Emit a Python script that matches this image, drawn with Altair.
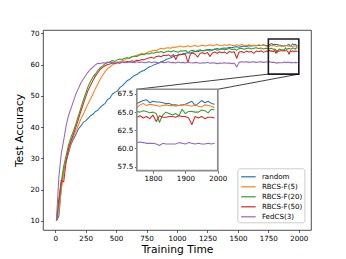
import altair as alt
import pandas as pd

# ---------------- data ----------------
SERIES = ["random", "RBCS-F(5)", "RBCS-F(20)", "RBCS-F(50)", "FedCS(3)"]
COLORS = ["#1f77b4", "#ff7f0e", "#2ca02c", "#d62728", "#9467bd"]

TIME_MAIN = list(range(10, 1731, 20))     # coarse part of the run
TIME_TAIL = list(range(1750, 1991, 10))   # zoomed tail
TIME = TIME_MAIN + TIME_TAIL

RANDOM = [10.0, 11.5, 20.5, 26.3, 29.0, 31.8, 34.5, 36.2, 37.6, 39.4,
          40.3, 41.5, 42.0, 42.8, 43.6, 44.1, 45.0, 45.4, 46.3, 47.0,
          47.6, 48.8, 49.3, 50.6, 51.1, 51.5, 52.6, 53.2, 54.0, 54.8,
          55.2, 55.9, 56.5, 56.8, 57.4, 57.9, 58.1, 58.7, 59.2, 59.5,
          59.9, 60.2, 60.5, 60.9, 61.1, 61.6, 61.9, 62.2, 62.6, 62.9,
          63.0, 63.3, 63.2, 63.6, 63.8, 63.7, 64.0, 64.2, 64.1, 64.4,
          64.5, 64.4, 64.7, 64.8, 64.6, 65.0, 65.1, 64.9, 65.2, 65.3,
          65.2, 65.5, 65.4, 65.6, 65.7, 65.5, 65.8, 65.9, 65.7, 66.0,
          65.9, 66.1, 66.0, 66.2, 66.1, 66.3, 66.1,
          66.2, 66.4, 66.6, 66.7, 66.3, 66.5, 66.4, 66.4, 66.3, 66.2,
          66.2, 66.0, 66.0, 65.9, 66.0, 66.1, 66.3, 66.5, 65.9, 66.2,
          66.6, 66.3, 66.5, 66.2, 66.1]

RBCS5 = [10.0, 13.0, 20.0, 25.5, 29.5, 32.5, 35.0, 37.0, 38.8, 40.6,
         42.5, 44.0, 45.8, 47.5, 49.0, 50.6, 52.3, 53.8, 55.4, 56.6,
         57.8, 58.7, 59.2, 59.9, 60.3, 60.6, 60.9, 61.2, 61.5, 61.9,
         62.1, 62.5, 62.6, 63.0, 63.2, 63.5, 63.4, 63.8, 64.1, 64.3,
         64.6, 64.5, 64.9, 65.2, 65.0, 65.3, 65.4, 65.2, 65.6, 65.5,
         65.7, 65.9, 65.6, 65.8, 66.0, 65.7, 65.9, 66.1, 65.8, 66.0,
         66.2, 65.9, 66.1, 66.3, 66.0, 66.2, 66.4, 66.1, 66.0, 66.3,
         66.1, 66.4, 66.2, 66.0, 66.3, 66.1, 66.4, 66.2, 66.0, 66.3,
         66.1, 66.2, 66.0, 66.3, 66.1, 66.2, 65.9,
         65.6, 66.0, 66.2, 65.9, 66.1, 66.0, 65.9, 65.8, 65.9, 66.0,
         65.9, 65.9, 65.8, 65.9, 66.0, 66.0, 65.9, 65.8, 66.1, 65.8,
         65.7, 66.0, 65.9, 65.8, 65.6]

RBCS20 = [10.0, 15.5, 22.5, 27.5, 31.0, 34.3, 36.8, 38.8, 41.0, 43.6,
          46.0, 48.5, 50.8, 53.0, 54.6, 56.0, 57.0, 58.1, 59.0, 59.6,
          60.3, 60.6, 60.9, 61.3, 61.0, 61.5, 61.8, 61.6, 62.0, 62.2,
          62.0, 62.5, 62.7, 62.6, 63.0, 63.3, 63.1, 63.5, 63.4, 63.8,
          63.6, 64.0, 63.9, 64.2, 63.8, 64.1, 64.3, 64.0, 64.4, 64.2,
          63.9, 64.4, 64.3, 64.5, 63.8, 64.4, 64.6, 64.2, 64.5, 64.7,
          64.4, 64.6, 64.8, 64.3, 64.7, 64.9, 64.6, 64.8, 65.0, 64.7,
          64.9, 65.1, 64.8, 65.0, 64.6, 65.1, 65.2, 64.9, 65.1, 65.3,
          65.0, 65.2, 65.4, 65.1, 65.3, 65.0, 65.2,
          65.1, 65.0, 65.2, 65.1, 64.9, 65.0, 64.8, 63.6, 64.6, 65.0,
          64.8, 64.6, 64.8, 64.5, 65.4, 64.8, 65.1, 65.1, 65.0, 65.0,
          65.3, 65.2, 64.9, 65.4, 65.3]

RBCS50 = [10.0, 17.0, 23.0, 22.5, 29.0, 33.3, 35.6, 37.8, 40.0, 42.3,
          45.0, 47.2, 49.6, 51.8, 53.3, 54.9, 56.3, 57.4, 58.5, 59.1,
          59.6, 60.0, 60.2, 60.5, 60.3, 60.6, 60.4, 60.8, 60.6, 61.0,
          60.8, 61.2, 61.0, 61.4, 61.3, 61.6, 61.5, 61.9, 62.1, 62.3,
          62.0, 62.6, 62.7, 62.5, 63.0, 62.8, 63.1, 62.6, 63.2, 61.6,
          63.3, 63.1, 63.5, 63.2, 60.6, 63.4, 63.7, 63.3, 62.4, 63.6,
          63.8, 63.4, 63.9, 62.6, 63.7, 64.0, 63.6, 64.1, 63.8, 64.0,
          63.5, 64.2, 63.9, 64.1, 62.0, 64.0, 64.2, 63.8, 64.3, 64.0,
          64.2, 63.6, 64.3, 64.1, 64.4, 63.9, 64.3,
          64.3, 64.5, 64.2, 64.4, 64.1, 64.6, 63.7, 64.5, 64.3, 64.3,
          64.4, 64.4, 64.3, 64.5, 64.4, 64.4, 64.2, 63.3, 64.4, 64.2,
          64.4, 64.1, 64.3, 64.3, 64.2]

FEDCS3 = [10.0, 24.0, 31.5, 35.8, 40.5, 43.8, 46.0, 48.3, 50.6, 52.3,
          54.0, 55.3, 56.5, 57.6, 58.5, 59.2, 59.9, 60.4, 60.3, 60.6,
          60.5, 60.8, 60.6, 60.7, 60.5, 60.8, 60.6, 60.7, 60.9, 60.6,
          60.8, 60.7, 60.6, 60.9, 60.7, 60.8, 60.6, 60.7, 60.9, 60.6,
          60.8, 60.7, 60.5, 60.8, 60.6, 60.7, 60.9, 60.6, 60.7, 60.5,
          60.8, 60.6, 60.7, 60.5, 60.8, 60.6, 60.5, 60.7, 60.6, 60.4,
          60.6, 60.5, 60.7, 60.4, 60.6, 60.5, 60.3, 60.5, 60.4, 60.6,
          60.4, 60.5, 60.3, 60.5, 59.2, 60.7, 60.9, 60.8, 60.9, 60.7,
          60.8, 60.9, 60.7, 60.8, 60.9, 60.7, 60.8,
          60.8, 60.9, 60.8, 60.7, 60.7, 60.7, 60.6, 60.4, 60.7, 60.6,
          60.6, 60.6, 60.6, 60.8, 60.7, 60.6, 60.8, 60.7, 60.6, 60.7,
          60.6, 60.6, 60.7, 60.6, 60.7]

X_TICKS = [0, 250, 500, 750, 1000, 1250, 1500, 1750, 2000]
Y_TICKS = [10, 20, 30, 40, 50, 60, 70]
INSET_X_TICKS = [1800, 1900, 2000]
INSET_Y_TICKS = [57.5, 60.0, 62.5, 65.0, 67.5]

# axis limits / zoom window / inset placement (in main data units)
X_DOM = [-100, 2100]
Y_DOM = [7.1, 71.05]
ZOOM_T = [1750, 2000]
ZOOM_V = [56.95, 68.15]
INSET_T = [670, 1335]
INSET_V = [26.1, 52.1]

# ---------------- layout ----------------
W, H = 268, 200
FONT = "DejaVu Sans"

rows = []
for name, vals in zip(SERIES, [RANDOM, RBCS5, RBCS20, RBCS50, FEDCS3]):
    assert len(vals) == len(TIME), (name, len(vals))
    for t, v in zip(TIME, vals):
        rows.append({"series": name, "t": t, "v": v})
df = pd.DataFrame(rows)
df_tail = df[df["t"] >= ZOOM_T[0]]

legend = alt.Legend(
    orient="none", legendX=194.4, legendY=138.3, title=None,
    symbolType="M-1.3,0L1.3,0", symbolSize=125, symbolStrokeWidth=1.2,
    symbolOffset=2.5,
    labelFont=FONT, labelFontSize=7.1, labelColor="black", labelOffset=7.0,
    fillColor="rgba(255,255,255,0.85)", strokeColor="#cccccc",
    cornerRadius=2, padding=2, rowPadding=0,
)
color = alt.Color("series:N", sort=SERIES,
                  scale=alt.Scale(domain=SERIES, range=COLORS), legend=legend)

x_main = alt.Scale(domain=X_DOM, nice=False, zero=False)
y_main = alt.Scale(domain=Y_DOM, nice=False, zero=False)

ax_x = alt.Axis(values=X_TICKS, title="Training Time", format="d", labelFlush=False,
                labelOverlap=False, titleY=22.9, titleBaseline="alphabetic")
ax_y = alt.Axis(values=Y_TICKS, title="Test Accuracy", format="d", labelOverlap=False,
                titleX=-23.3, titleBaseline="middle")

X_ENC = alt.X("t:Q", scale=x_main, axis=ax_x)
Y_ENC = alt.Y("v:Q", scale=y_main, axis=ax_y)

main_lines = alt.Chart(df).mark_line(strokeWidth=1.05, strokeJoin="round").encode(
    x=X_ENC, y=Y_ENC, color=color)

zoom_df = pd.DataFrame({"t": [ZOOM_T[0]], "t2": [ZOOM_T[1]],
                        "v": [ZOOM_V[0]], "v2": [ZOOM_V[1]]})
zoom_rect = alt.Chart(zoom_df).mark_rect(fillOpacity=0, stroke="#231a23",
                                         strokeWidth=1.6).encode(
    x=X_ENC, x2="t2", y=Y_ENC, y2="v2")

conn_df = pd.DataFrame({"t": ZOOM_T, "v": [ZOOM_V[0], ZOOM_V[0]],
                        "t2": INSET_T, "v2": [INSET_V[1], INSET_V[1]]})
connectors = alt.Chart(conn_df).mark_rule(color="black", strokeWidth=0.75).encode(
    x=X_ENC, x2="t2", y=Y_ENC, y2="v2")

main = alt.layer(main_lines, zoom_rect, connectors)

# inset pixel ranges derived from the inset box in main data units
def px_x(t):
    return (t - X_DOM[0]) / (X_DOM[1] - X_DOM[0]) * W

def px_y(v):
    return (Y_DOM[1] - v) / (Y_DOM[1] - Y_DOM[0]) * H

ix0, ix1 = px_x(INSET_T[0]), px_x(INSET_T[1])
iyb, iyt = px_y(INSET_V[0]), px_y(INSET_V[1])

x_in = alt.Scale(domain=ZOOM_T, range=[ix0, ix1], nice=False, zero=False)
y_in = alt.Scale(domain=ZOOM_V, range=[iyb, iyt], nice=False, zero=False)
ax_ix = alt.Axis(values=INSET_X_TICKS, orient="bottom", offset=-(H - iyb), format="d",
                 title=None, labelFlush=False, labelOverlap=False, domain=False)
ax_iy = alt.Axis(values=INSET_Y_TICKS, orient="left", offset=-ix0, format=".1f",
                 title=None, labelOverlap=False, domain=False)
IX_ENC = alt.X("t:Q", scale=x_in, axis=ax_ix)
IY_ENC = alt.Y("v:Q", scale=y_in, axis=ax_iy)

box_df = pd.DataFrame({"t": [ZOOM_T[0]], "t2": [ZOOM_T[1]],
                       "v": [ZOOM_V[0]], "v2": [ZOOM_V[1]]})
inset_bg = alt.Chart(box_df).mark_rect(fill="white").encode(
    x=IX_ENC, x2="t2", y=IY_ENC, y2="v2")
inset_lines = alt.Chart(df_tail).mark_line(strokeWidth=1.05, strokeJoin="round").encode(
    x=IX_ENC, y=IY_ENC, color=color)
inset_border = alt.Chart(box_df).mark_rect(fillOpacity=0, stroke="#8c8c8c",
                                           strokeWidth=1.7).encode(
    x=IX_ENC, x2="t2", y=IY_ENC, y2="v2")
inset = alt.layer(inset_bg, inset_lines, inset_border)

chart = alt.layer(main, inset).resolve_scale(
    x="independent", y="independent"
).properties(
    width=W, height=H, background="white",
    padding={"left": 35, "top": 22, "right": 27, "bottom": 30},
    autosize=alt.AutoSizeParams(type="none"),
).configure_view(
    stroke="#222222", strokeWidth=0.8
).configure_axis(
    grid=False, domain=False,
    labelFont=FONT, labelFontSize=7.1, labelColor="black", labelPadding=1.5,
    tickColor="black", tickSize=2.5, tickWidth=0.6,
    titleFont=FONT, titleFontSize=10.7, titleFontWeight="normal", titleColor="black",
)

chart.save("out.html", embed_options={"renderer": "svg", "actions": False})
